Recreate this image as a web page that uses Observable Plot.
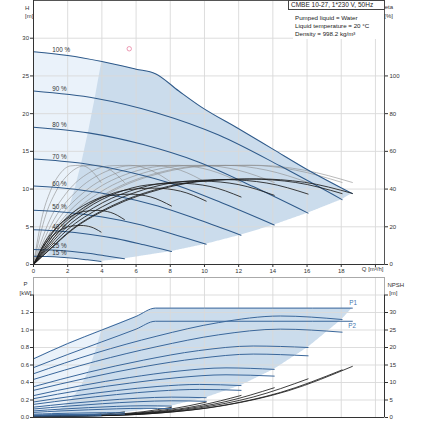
<!DOCTYPE html>
<html>
<head>
<meta charset="utf-8">
<script src="https://cdn.jsdelivr.net/npm/d3@7"></script>
<script src="https://cdn.jsdelivr.net/npm/@observablehq/plot@0.6"></script>
<style>
  html, body { margin: 0; padding: 0; background: #fff; }
  #wrap { position: relative; width: 423px; height: 423px; overflow: hidden; background: #fff;
          font-family: "Liberation Sans", Arial, sans-serif; }
  #wrap svg { display: block; }
  .info { position: absolute; color: #222; white-space: nowrap; box-sizing: border-box; background: #fff; }
</style>
</head>
<body>
<div id="wrap"></div>
<script>
// ---------------- data ----------------
const speeds = [100, 90, 80, 70, 60, 50, 40, 25, 15];

// head curves Q [m3/h] / H [m]
const headQ = [
  [0, 2, 4, 6, 7.13, 8.5, 9.8, 12, 14, 16, 18.65],
  [0, 3.61, 7.22, 10.83, 14.44, 18.05],
  [0, 3.21, 6.42, 9.64, 12.85, 16.06],
  [0, 2.82, 5.63, 8.45, 11.26, 14.08],
  [0, 2.43, 4.86, 7.28, 9.71, 12.14],
  [0, 2.02, 4.04, 6.06, 8.08, 10.1],
  [0, 1.61, 3.23, 4.84, 6.46, 8.07],
  [0, 1.06, 2.13, 3.19, 4.26, 5.32],
  [0, 0.79, 1.58, 2.37, 3.16, 3.95]
];
const headH = [
  [28.2, 27.7, 26.9, 25.9, 25.3, 23.0, 20.9, 18.0, 15.3, 12.6, 9.4],
  [23.0, 22.05, 20.1, 17.17, 13.05, 8.6],
  [18.2, 17.45, 15.9, 13.59, 10.33, 6.81],
  [14.0, 13.42, 12.23, 10.45, 7.94, 5.23],
  [10.4, 9.97, 9.09, 7.76, 5.9, 3.89],
  [7.2, 6.9, 6.29, 5.37, 4.09, 2.69],
  [4.6, 4.41, 4.02, 3.43, 2.61, 1.72],
  [2.0, 1.92, 1.75, 1.49, 1.13, 0.75],
  [1.1, 1.05, 0.96, 0.82, 0.62, 0.41]
];

// power curves (100 % has its own flows, the others use headQ)
const powerQ100 = [0, 2, 4, 6, 7.13, 10, 14, 18.65];
const p1 = [
  [0.67, 0.845, 1.0, 1.155, 1.25, 1.25, 1.25, 1.25],
  [0.50, 0.735, 0.93, 1.085, 1.16, 1.12],
  [0.352, 0.517, 0.655, 0.764, 0.817, 0.80],
  [0.25, 0.365, 0.457, 0.53, 0.567, 0.55],
  [0.177, 0.248, 0.308, 0.355, 0.378, 0.365],
  [0.118, 0.159, 0.193, 0.22, 0.233, 0.226],
  [0.075, 0.096, 0.113, 0.127, 0.134, 0.13],
  [0.038, 0.044, 0.049, 0.053, 0.055, 0.054],
  [0.025, 0.028, 0.03, 0.031, 0.032, 0.032]
];
const p2 = [
  [0.57, 0.72, 0.865, 1.01, 1.10, 1.10, 1.10, 1.10],
  [0.435, 0.64, 0.81, 0.945, 1.01, 0.975],
  [0.31, 0.455, 0.58, 0.675, 0.725, 0.705],
  [0.215, 0.314, 0.393, 0.456, 0.488, 0.473],
  [0.15, 0.21, 0.262, 0.302, 0.321, 0.31],
  [0.097, 0.13, 0.158, 0.18, 0.191, 0.185],
  [0.058, 0.075, 0.088, 0.099, 0.105, 0.101],
  [0.027, 0.031, 0.034, 0.037, 0.039, 0.038],
  [0.015, 0.017, 0.018, 0.019, 0.019, 0.019]
];

// NPSH [m] (100 % has its own flows, the others use headQ)
const npshQ100 = [0, 3.73, 7.46, 11.19, 14.92, 18.65];
const npsh = [
  [0.4, 0.51, 1.31, 3.47, 7.67, 14.6],
  [0.4, 0.51, 1.24, 3.25, 7.16, 13.6],
  [0.4, 0.49, 1.08, 2.7, 5.85, 11.05],
  [0.4, 0.46, 0.92, 2.15, 4.55, 8.5],
  [0.4, 0.45, 0.78, 1.67, 3.42, 6.3],
  [0.4, 0.43, 0.66, 1.26, 2.45, 4.4],
  [0.4, 0.42, 0.56, 0.94, 1.68, 2.9],
  [0.4, 0.41, 0.48, 0.66, 1.01, 1.6],
  [0.4, 0.405, 0.44, 0.53, 0.71, 1.0]
];

// efficiency curves [%]
const etaQ = [
  [0, 0.93, 2.24, 4.66, 7.46, 10.26, 13.06, 15.85, 18.65],
  [0, 0.90, 2.17, 4.51, 7.22, 9.93, 12.64, 15.34, 18.05],
  [0, 0.80, 1.93, 4.02, 6.42, 8.83, 11.24, 13.65, 16.06],
  [0, 0.70, 1.69, 3.52, 5.63, 7.74, 9.86, 11.97, 14.08],
  [0, 0.61, 1.46, 3.04, 4.86, 6.68, 8.50, 10.32, 12.14],
  [0, 0.51, 1.21, 2.53, 4.04, 5.56, 7.07, 8.59, 10.10],
  [0, 0.40, 0.97, 2.02, 3.23, 4.44, 5.65, 6.86, 8.07],
  [0, 0.27, 0.64, 1.33, 2.13, 2.93, 3.72, 4.52, 5.32],
  [0, 0.20, 0.47, 0.99, 1.58, 2.17, 2.77, 3.36, 3.95]
];
const etaHyd = [0, 11, 24, 39, 48.5, 52.3, 52.6, 50, 43.5];
const etaTot = [
  [0, 7.7, 18.2, 30.9, 40.0, 44.5, 45.4, 43.6, 37.7],
  [0, 7.7, 18.1, 30.8, 39.9, 44.4, 45.3, 43.5, 37.6],
  [0, 7.65, 18.0, 30.6, 39.6, 44.1, 45.0, 43.2, 37.35],
  [0, 7.5, 17.7, 30.1, 38.9, 43.3, 44.2, 42.4, 36.7],
  [0, 7.3, 17.2, 29.3, 37.9, 42.2, 43.1, 41.4, 35.8],
  [0, 6.9, 16.2, 27.5, 35.6, 39.7, 40.5, 38.9, 33.6],
  [0, 6.3, 14.9, 25.4, 32.8, 36.6, 37.3, 35.8, 31.0],
  [0, 4.9, 11.5, 19.5, 25.3, 28.1, 28.7, 27.6, 23.8],
  [0, 3.5, 8.3, 14.1, 18.2, 20.3, 20.7, 19.9, 17.2]
];

// left edge of the recommended range (15 % ... 100 %)
const minFlowQ = [0.79, 1.06, 1.61, 2.02, 2.43, 2.82, 3.21, 3.61, 4.0];
const minFlowH = [1.05, 1.92, 4.41, 6.9, 9.97, 13.42, 17.45, 22.05, 26.9];
const minFlowP = [0.028, 0.044, 0.096, 0.159, 0.248, 0.365, 0.517, 0.735, 1.0];

const dutyPoint = [{Q: 5.6, H: 28.6}];
const labelFlow = 1.1;

const xTicks = [0, 2, 4, 6, 8, 10, 12, 14, 16, 18, 20];
const hTicks = [0, 5, 10, 15, 20, 25, 30];
const etaTicks = [0, 5, 10, 15, 20, 25];      // H positions of 0..100 %
const pTicks = [0, 0.2, 0.4, 0.6, 0.8, 1.0, 1.2, 1.4];

// ---------------- helpers ----------------
function interp(pts, x) {
  if (x <= pts[0][0]) return pts[0][1];
  for (let i = 1; i < pts.length; i++) {
    if (x <= pts[i][0]) {
      const [x0, y0] = pts[i - 1], [x1, y1] = pts[i];
      return x1 === x0 ? y1 : y0 + (y1 - y0) * (x - x0) / (x1 - x0);
    }
  }
  return pts[pts.length - 1][1];
}
const pairs = (Qs, Vs) => Qs.map((q, j) => [q, Vs[j]]);
const pQ = i => (i === 0 ? powerQ100 : headQ[i]);
const nQ = i => (i === 0 ? npshQ100 : headQ[i]);

const headRows = speeds.flatMap((s, i) => headQ[i].map((q, j) => ({speed: s, Q: q, H: headH[i][j]})));
const p1Rows = speeds.flatMap((s, i) => pQ(i).map((q, j) => ({speed: s, Q: q, P: p1[i][j]})));
const p2Rows = speeds.flatMap((s, i) => pQ(i).map((q, j) => ({speed: s, Q: q, P: p2[i][j]})));
const npshRows = speeds.flatMap((s, i) => nQ(i).map((q, j) => ({speed: s, Q: q, N: npsh[i][j]})));
const etaRows = speeds.flatMap((s, i) => etaQ[i].map((q, j) => ({speed: s, Q: q, hyd: etaHyd[j], tot: etaTot[i][j]})));
const labelRows = speeds.map((s, i) => ({label: s + " %", Q: labelFlow, H: interp(pairs(headQ[i], headH[i]), labelFlow)}));

// envelopes
const Qmax = headQ[0][headQ[0].length - 1];
const xs = d3.range(0, Qmax, 0.05).concat([Qmax]);
const upH = pairs(headQ[0], headH[0]);
const endsH = speeds.map((s, i) => [headQ[i].at(-1), headH[i].at(-1)]).sort((a, b) => a[0] - b[0]);
const lowH = pairs(headQ[8], headH[8]).slice(0, -1).concat(endsH);
const edgeH = [[0, 0]].concat(pairs(minFlowQ, minFlowH));
const envH = xs.map(x => ({x, y1: interp(lowH, x), y2: interp(upH, x)}));
const lightH = xs.filter(x => x <= minFlowQ.at(-1) + 0.05).map(x => {
  const t = interp(upH, x);
  return {x, y1: Math.min(t, Math.max(interp(lowH, x), interp(edgeH, x))), y2: t};
});

const upP = pairs(powerQ100, p1[0]);
const endsP = speeds.map((s, i) => [pQ(i).at(-1), p1[i].at(-1)]).sort((a, b) => a[0] - b[0]);
const lowP = pairs(headQ[8], p2[8]).concat(endsP);
const edgeP = [[0, 0]].concat(pairs(minFlowQ, minFlowP));
const envP = xs.map(x => ({x, y1: interp(lowP, x), y2: interp(upP, x)}));
const lightP = xs.filter(x => x <= minFlowQ.at(-1) + 0.05).map(x => {
  const t = interp(upP, x);
  return {x, y1: Math.min(t, Math.max(interp(lowP, x), interp(edgeP, x))), y2: t};
});

// ---------------- styling ----------------
const FONT = "'Liberation Sans', Arial, sans-serif";
const XMAX = 20.53;
const DARK = "#cbdcec", LIGHT = "#eaf2fa", GRID = "#d9d9d9";
const HBLUE = "#2f5a8a", PBLUE = "#3a679b", AX = "#333";

const topChart = Plot.plot({
  width: 423, height: 277,
  marginLeft: 33, marginRight: 39, marginTop: 0, marginBottom: 13,
  x: {domain: [0, XMAX]},
  y: {domain: [0, 35]},
  style: {fontFamily: FONT, fontSize: "6px", color: AX, background: "transparent", overflow: "visible"},
  marks: [
    Plot.areaY(envH, {x: "x", y1: "y1", y2: "y2", fill: DARK}),
    Plot.areaY(lightH, {x: "x", y1: "y1", y2: "y2", fill: LIGHT}),
    Plot.ruleX(xTicks.slice(1), {stroke: GRID, strokeWidth: 0.9}),
    Plot.ruleY(hTicks.slice(1), {stroke: GRID, strokeWidth: 0.9}),
    Plot.line(etaRows, {x: "Q", y: d => d.hyd / 4, z: "speed", stroke: "#8c8c8c", strokeWidth: 0.6, curve: "monotone-x"}),
    Plot.line(headRows, {x: "Q", y: "H", z: "speed", stroke: HBLUE, strokeWidth: 1.05, curve: "monotone-x"}),
    Plot.line(etaRows, {x: "Q", y: d => d.tot / 4, z: "speed", stroke: "#1c1c1c", strokeWidth: 0.85, curve: "monotone-x"}),
    Plot.dot(dutyPoint, {x: "Q", y: "H", r: 2.2, stroke: "#e77fa0", fill: "none", strokeWidth: 0.8}),
    Plot.text(labelRows, {x: "Q", y: "H", text: "label", textAnchor: "start", dy: -4, fontSize: 6.3, fill: "#333"}),
    Plot.frame({stroke: "#555", strokeWidth: 1}),
    Plot.ruleX([0], {stroke: AX}),
    Plot.ruleY([0], {stroke: AX}),
    Plot.axisY({ticks: hTicks, tickSize: 3, tickPadding: 1.5, label: null, fontSize: 6}),
    Plot.axisY({anchor: "right", ticks: etaTicks, tickFormat: d => d * 4, tickSize: 3, tickPadding: 2, label: null, fontSize: 6}),
    Plot.axisX({ticks: xTicks, tickFormat: d => (d === 20 ? "" : d), tickSize: 3, tickPadding: 1, label: null, fontSize: 6}),
    Plot.text(["Q [m³/h]"], {frameAnchor: "bottom-right", textAnchor: "end", dx: -1, dy: 6.5, fontSize: 6}),
    Plot.text(["H"], {frameAnchor: "top-left", dx: -8.5, dy: 5, fontSize: 6}),
    Plot.text(["[m]"], {frameAnchor: "top-left", dx: -8.5, dy: 13.5, fontSize: 6}),
    Plot.text(["eta"], {frameAnchor: "top-right", dx: 8.5, dy: 4.5, fontSize: 6}),
    Plot.text(["[%]"], {frameAnchor: "top-right", dx: 8.5, dy: 13, fontSize: 6})
  ]
});

const bottomChart = Plot.plot({
  width: 423, height: 146,
  marginLeft: 33, marginRight: 39, marginTop: 0, marginBottom: 6,
  x: {domain: [0, XMAX], axis: null},
  y: {domain: [0, 1.6]},
  style: {fontFamily: FONT, fontSize: "6px", color: AX, background: "transparent", overflow: "visible"},
  marks: [
    Plot.areaY(envP, {x: "x", y1: "y1", y2: "y2", fill: DARK}),
    Plot.areaY(lightP, {x: "x", y1: "y1", y2: "y2", fill: LIGHT}),
    Plot.ruleX(xTicks.slice(1), {stroke: GRID, strokeWidth: 0.9}),
    Plot.ruleY(pTicks.slice(1), {stroke: GRID, strokeWidth: 0.9}),
    Plot.frame({stroke: "#aaa", strokeWidth: 1}),
    Plot.line(npshRows, {x: "Q", y: d => d.N / 25, z: "speed", stroke: "#1c1c1c", strokeWidth: 0.85, curve: "monotone-x"}),
    Plot.line(p2Rows, {x: "Q", y: "P", z: "speed", stroke: PBLUE, strokeWidth: 1, curve: "monotone-x"}),
    Plot.line(p1Rows, {x: "Q", y: "P", z: "speed", stroke: PBLUE, strokeWidth: 1, curve: "monotone-x"}),
    Plot.ruleX([0], {y1: 0, y2: 1.4, stroke: AX}),
    Plot.ruleX([XMAX], {y1: 0, y2: 1.4, stroke: AX}),
    Plot.ruleY([0], {stroke: AX}),
    Plot.axisY({ticks: pTicks, tickFormat: d => (d > 1.3 ? "" : d3.format(".1f")(d)), tickSize: 3, tickPadding: 1.5, label: null, fontSize: 6}),
    Plot.axisY({anchor: "right", ticks: pTicks, tickFormat: d => (d > 1.3 ? "" : Math.round(d * 25)), tickSize: 3, tickPadding: 2, label: null, fontSize: 6}),
    Plot.text([{Q: powerQ100.at(-1), P: p1[0].at(-1), t: "P1"}], {x: "Q", y: "P", text: "t", textAnchor: "start", dx: -3, dy: -5, fontSize: 6.3, fill: "#4677b0"}),
    Plot.text([{Q: powerQ100.at(-1), P: p2[0].at(-1), t: "P2"}], {x: "Q", y: "P", text: "t", textAnchor: "start", dx: -4, dy: 5, fontSize: 6.3, fill: "#4677b0"}),
    Plot.text(["P"], {frameAnchor: "top-left", dx: -10, dy: 4.5, fontSize: 6}),
    Plot.text(["[kW]"], {frameAnchor: "top-left", dx: -2, dy: 13, textAnchor: "end", fontSize: 6}),
    Plot.text(["NPSH"], {frameAnchor: "top-right", dx: 3, dy: 5, textAnchor: "start", fontSize: 6}),
    Plot.text(["[m]"], {frameAnchor: "top-right", dx: 13, dy: 13, fontSize: 6})
  ]
});

const wrap = document.getElementById("wrap");
wrap.append(topChart, bottomChart);

// information box (top right)
const box = document.createElement("div");
box.className = "info";
box.style.cssText = "left:288px;top:0px;width:97px;height:10px;border:1px solid #444;font-size:6.5px;line-height:8px;padding-left:2px;";
box.textContent = "CMBE 10-27, 1*230 V, 50Hz";
wrap.append(box);
const info = document.createElement("div");
info.className = "info";
info.style.cssText = "left:293px;top:10px;width:91px;height:29px;font-size:6.2px;line-height:8px;padding-top:4.3px;padding-left:2px;";
info.innerHTML = "Pumped liquid = Water<br>Liquid temperature = 20 °C<br>Density = 998.2 kg/m³";
wrap.append(info);
</script>
</body>
</html>
